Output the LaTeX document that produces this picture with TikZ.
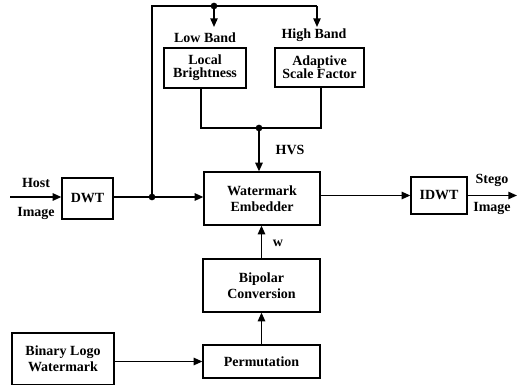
\documentclass[tikz,border=0pt]{standalone}
\usepackage{fontspec}
\setmainfont{Liberation Serif}
\usetikzlibrary{arrows.meta}
\begin{document}
\begin{tikzpicture}[x=0.75pt,y=-0.75pt,
  every node/.style={font=\bfseries\fontsize{10.5pt}{12pt}\selectfont},
  blk/.style={draw,line width=0.9pt,align=center,inner sep=1pt},
  lbl/.style={inner sep=0pt},
  wire/.style={line width=1.1pt},
  arr/.style={wire,-{Triangle[length=6.5pt,width=5.5pt]}},
  dot/.style={circle,fill,inner sep=0pt,minimum size=5pt}]
\useasboundingbox (0,0) rectangle (518,385);

% blocks
\node[blk,minimum width=61.5pt,minimum height=30pt] (lb) at (205,68) {Local\\[-2pt]Brightness};
\node[blk,minimum width=66.75pt,minimum height=29.25pt] (asf) at (319.5,67.5) {Adaptive\\[-2pt]Scale Factor};
\node[blk,minimum width=87pt,minimum height=39.75pt] (emb) at (262,198.5) {Watermark\\Embedder};
\node[blk,minimum width=38.25pt,minimum height=30.75pt] (dwt) at (87.5,198.5) {DWT};
\node[blk,minimum width=42pt,minimum height=27.75pt] (idwt) at (439,195.5) {IDWT};
\node[blk,minimum width=87.75pt,minimum height=39.75pt] (bip) at (261.5,285.5) {Bipolar\\Conversion};
\node[blk,minimum width=87.75pt,minimum height=24.75pt] (perm) at (261.5,361.5) {Permutation};
\node[blk,minimum width=76.5pt,minimum height=39pt] (bin) at (63,359) {Binary Logo\\Watermark};

% labels
\node[lbl] (host) at (36,183) {Host};
\node[lbl] (himg) at (36,213) {Image};
\node[lbl] (stego) at (492,180) {Stego};
\node[lbl] (simg) at (492,208) {Image};
\node[lbl] (low) at (205,38) {Low Band};
\node[lbl] (high) at (314,35) {High Band};
\node[lbl] (hvs) at (290,150) {HVS};
\node[lbl] (w) at (278,243) {w};

% junction points
\coordinate (in) at (10,197);
\coordinate (out) at (517,195.5);
\coordinate (j1) at (152,197);
\coordinate (t1) at (152,6);
\coordinate (t2) at (214,6);
\coordinate (t3) at (317,6);
\coordinate (a1) at (214,27);
\coordinate (a2) at (317,27);
\coordinate (h1) at (201,128);
\coordinate (h2) at (259,128);
\coordinate (h3) at (321,128);

% connectors
\draw[arr] (in) -- (in -| dwt.west);
\draw[arr] (j1 -| dwt.east) -- (j1 -| emb.west);
\draw[wire] (j1) -- (t1) -- (t3);
\draw[arr] (t3) -- (a2);
\draw[arr] (t2) -- (a1);
\draw[wire] (lb.south -| h1) -- (h1) -- (h3) -- (asf.south -| h3);
\draw[arr] (h2) -- (h2 |- emb.north);
\draw[arr] (idwt.west -| emb.east) -- (idwt.west);
\draw[arr] (idwt.east) -- (out);
\draw[arr] (bip.north) -- (bip.north |- emb.south);
\draw[arr] (perm.north) -- (bip.south);
\draw[arr] (bin.east |- perm.west) -- (perm.west);

\node[dot] at (j1) {};
\node[dot] at (t2) {};
\node[dot] at (h2) {};
\end{tikzpicture}
\end{document}
